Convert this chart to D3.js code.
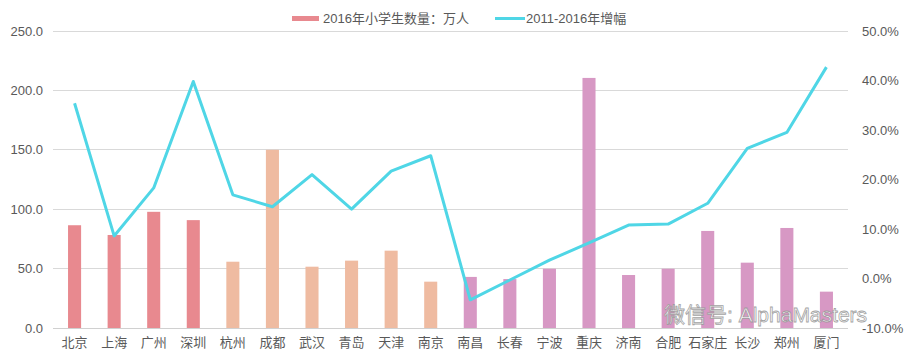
<!DOCTYPE html>
<html><head><meta charset="utf-8">
<script src="https://cdn.jsdelivr.net/npm/d3@7"></script>
<style>html,body{margin:0;padding:0;background:#fff;}svg{display:block;}</style>
</head><body><svg id="chart" width="910" height="358"></svg>
<script>
const cities = ["北京","上海","广州","深圳","杭州","成都","武汉","青岛","天津","南京","南昌","长春","宁波","重庆","济南","合肥","石家庄","长沙","郑州","厦门"];
const tiers = [1,1,1,1,2,2,2,2,2,2,3,3,3,3,3,3,3,3,3,3];
const students = [86.5,78.3,97.8,90.8,55.8,150.0,51.6,56.7,65.1,39.0,43.0,41.2,49.9,210.5,44.6,49.9,81.7,55.0,84.2,30.6];
const growth = [35.4,8.6,18.3,39.8,16.9,14.5,21.0,14.0,21.7,24.8,-4.3,-0.3,3.7,7.2,10.8,11.0,15.2,26.3,29.5,42.7];
const leftTicks = [0,50,100,150,200,250];
const rightTicks = [-10,0,10,20,30,40,50];
const seriesNames = ["2016年小学生数量：万人","2011-2016年增幅"];

const colors = {1:"#e8898f",2:"#efbba1",3:"#d798c4"};
const lineColor = "#4fd6e6";
const font = "'Liberation Sans','Noto Sans CJK SC',Arial,sans-serif";

const svg = d3.select("#chart");
const L = 53, R = 848, T = 31, B = 328;

const x = d3.scaleBand().domain(cities).range([L, R]).paddingInner(0.67).paddingOuter(0.38);
const yL = d3.scaleLinear().domain([0,250]).range([B,T]);
const yR = d3.scaleLinear().domain([-10,50]).range([B,T]);

// gridlines
svg.append("g").selectAll("line").data(leftTicks.filter(d=>d>0)).join("line")
  .attr("x1",L).attr("x2",R).attr("y1",d=>yL(d)).attr("y2",d=>yL(d))
  .attr("stroke","#d9d9d9").attr("stroke-width",1).attr("shape-rendering","crispEdges");

// left axis
const axL = svg.append("g").attr("transform",`translate(${L},0)`)
  .call(d3.axisLeft(yL).tickValues(leftTicks).tickFormat(d3.format(".1f")).tickSize(0).tickPadding(10));
axL.select(".domain").remove();
axL.selectAll("text").attr("fill","#595959").style("font-family",font).style("font-size","13px");

// right axis
const axR = svg.append("g").attr("transform",`translate(${R},0)`)
  .call(d3.axisRight(yR).tickValues(rightTicks).tickFormat(d=>d.toFixed(1)+"%").tickSize(0).tickPadding(14));
axR.select(".domain").remove();
axR.selectAll("text").attr("fill","#595959").style("font-family",font).style("font-size","13px");

// bars
svg.append("g").selectAll("rect").data(cities).join("rect")
  .attr("x",d=>x(d)).attr("width",x.bandwidth())
  .attr("y",(d,i)=>yL(students[i])).attr("height",(d,i)=>B-yL(students[i]))
  .attr("fill",(d,i)=>colors[tiers[i]]);

// x axis
const axX = svg.append("g").attr("transform",`translate(0,${B})`)
  .call(d3.axisBottom(x).tickSize(0).tickPadding(10));
axX.select(".domain").attr("stroke","#d0d0d0").attr("d",`M${L},0.5H${R}`);
axX.selectAll("text").attr("fill","#595959").style("font-family",font).style("font-size","13px");

// line
const line = d3.line().x((d,i)=>x(cities[i])+x.bandwidth()/2).y(d=>yR(d));
svg.append("path").datum(growth).attr("d",line)
  .attr("fill","none").attr("stroke",lineColor).attr("stroke-width",3).attr("stroke-linejoin","round");

// legend
const lg = svg.append("g");
lg.append("rect").attr("x",292).attr("y",16).attr("width",27).attr("height",5).attr("fill",colors[1]);
lg.append("text").attr("x",323).attr("y",23).text(seriesNames[0])
  .attr("fill","#595959").style("font-family",font).style("font-size","13px");
lg.append("line").attr("x1",495).attr("x2",525).attr("y1",18.5).attr("y2",18.5).attr("stroke",lineColor).attr("stroke-width",3);
lg.append("text").attr("x",526).attr("y",23).text(seriesNames[1])
  .attr("fill","#595959").style("font-family",font).style("font-size","13px");

// watermark
svg.append("text").attr("x",664).attr("y",322).text("微信号: AlphaMasters")
  .attr("fill","#fff").attr("stroke","#9a9a9a").attr("stroke-width",0.8)
  .style("font-family",font).style("font-size","21px").attr("opacity",0.9);
</script>
</body></html>
